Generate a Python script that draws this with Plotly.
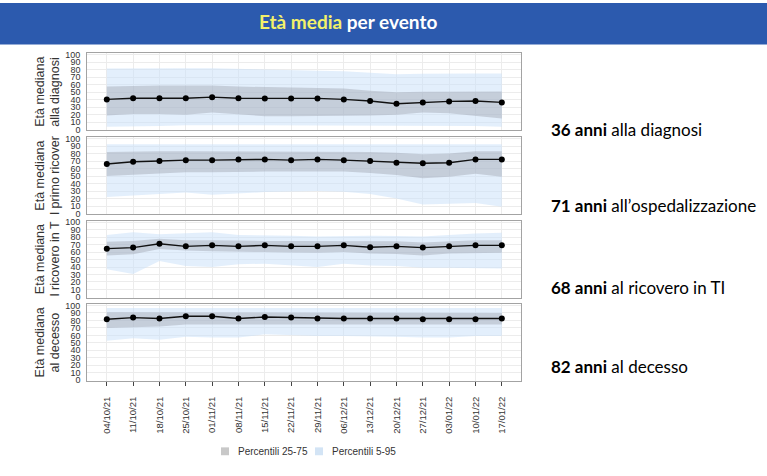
import plotly.graph_objects as go

dates = ["04/10/21", "11/10/21", "18/10/21", "25/10/21", "01/11/21", "08/11/21",
         "15/11/21", "22/11/21", "29/11/21", "06/12/21", "13/12/21", "20/12/21",
         "27/12/21", "03/01/22", "10/01/22", "17/01/22"]

# Panel 1: alla diagnosi
diag_med = [40.4, 42, 42, 42, 43.4, 42, 41.7, 41.7, 41.7, 40.4, 38.2, 34.6, 36.4, 37.7, 38.2, 36.4]
diag_p25 = [19, 21, 21, 20, 23, 20, 18, 18, 18, 18, 19, 20, 23, 22, 19, 15]
diag_p75 = [57.5, 58.5, 58.8, 58.8, 58.8, 57.5, 57, 56.5, 56, 55, 52, 50, 50.5, 51, 51.5, 51]
diag_p5 = [4, 5, 5, 6, 6, 6, 6, 6, 6, 6, 6, 6, 6, 5, 5, 4]
diag_p95 = [81.6, 82, 82, 82, 82, 81, 80, 79, 78.5, 78, 76, 74, 74.5, 75, 75, 75]

# Panel 2: al primo ricovero
osp_med = [66, 69, 70, 71.2, 71.2, 72.2, 72.2, 71.2, 72.2, 71.2, 70, 67.8, 67, 67.8, 72.2, 72.2]
osp_p25 = [50, 52, 53, 55, 55, 56, 56, 56, 56, 56, 54, 51.5, 47, 49, 53, 49]
osp_p75 = [82, 83, 83, 83, 83, 83, 83, 83, 83, 83, 82, 81, 79, 80, 83, 83]
osp_p5 = [22, 24, 26.4, 28, 25, 27, 28.6, 29.5, 30, 29, 26, 20, 12, 13, 14, 9]
osp_p95 = [92.5, 92.5, 92.5, 92.5, 92.5, 92.5, 92.5, 92.5, 92.5, 92.5, 92.5, 92.5, 92.5, 92.5, 92.5, 92.5]

# Panel 3: al ricovero in TI
ti_med = [64.6, 66, 71.2, 67.7, 69, 67.7, 69, 67.7, 67.7, 69, 66.4, 67.7, 66, 67.7, 69, 69]
ti_p25 = [55.5, 57, 64, 62, 61, 60, 60, 59.5, 59, 60, 58, 57.5, 55.5, 58, 59, 59]
ti_p75 = [74, 75, 78, 76, 76, 75, 75, 75, 75, 75, 74, 74.5, 73, 74.5, 76, 76]
ti_p5 = [37, 30.5, 48, 41.5, 40, 43.7, 44.5, 42, 40, 44.5, 42, 41.5, 39, 39, 39, 38]
ti_p95 = [83, 86.5, 84, 85, 86.5, 83, 83, 82, 81, 82, 82, 81.5, 81, 83, 85, 86]

# Panel 4: al decesso
dec_med = [81.6, 83.8, 82.5, 85.5, 85.5, 82.5, 84.6, 83.8, 82.5, 82.5, 82.5, 82.5, 81.6, 81.6, 81.6, 82.5]
dec_p25 = [70, 71, 72, 74.5, 74.5, 73.7, 74, 74, 74.5, 74.5, 74, 74, 73.7, 74, 74.5, 74.5]
dec_p75 = [91, 91, 90.5, 91, 91, 90.5, 90, 90, 90, 90, 90, 90, 90, 90, 90, 90]
dec_p5 = [52.6, 56, 54, 58, 57, 57, 61.4, 60, 59, 59, 59, 58, 57, 57, 59, 59]
dec_p95 = [96.5, 96.5, 96.5, 96.5, 96.5, 96.5, 96.5, 96.5, 96.5, 96.5, 96.5, 96.5, 96.5, 96.5, 96.5, 96.5]

panel_titles = [("Età mediana", "alla diagnosi"),
                ("Età mediana", "l primo ricover"),
                ("Età mediana", "l ricovero in T"),
                ("Età mediana", "al decesso")]

summary_nums = ["36 anni", "71 anni", "68 anni", "82 anni"]
summary_texts = ["alla diagnosi", "all’ospedalizzazione", "al ricovero in TI", "al decesso"]

legend_labels = ["Percentili 25-75", "Percentili 5-95"]
title_hl = "Età media"
title_rest = "per evento"

panels = [
    (diag_med, diag_p25, diag_p75, diag_p5, diag_p95),
    (osp_med, osp_p25, osp_p75, osp_p5, osp_p95),
    (ti_med, ti_p25, ti_p75, ti_p5, ti_p95),
    (dec_med, dec_p25, dec_p75, dec_p5, dec_p95),
]

W, H = 767, 476
def py(y):
    return 1 - y / H
def px(x):
    return x / W

LIGHT = "rgba(200,224,249,0.5)"
IQR = "rgba(155,160,172,0.42)"
LEG_GRAY = "#c8c8c8"
LEG_BLUE = "#d3e4f5"

domains = [(129.3, 51), (214.5, 136), (299, 221), (383.5, 305.5)]
x0, x1 = 87.3, 521.3

fig = go.Figure()
for i, (med, p25, p75, p5, p95) in enumerate(panels):
    xa = "x" if i == 0 else f"x{i+1}"
    ya = "y" if i == 0 else f"y{i+1}"
    fig.add_trace(go.Scatter(x=dates, y=p95, mode="lines", line=dict(width=0, color=LIGHT),
                             showlegend=False, hoverinfo="skip", xaxis=xa, yaxis=ya))
    fig.add_trace(go.Scatter(x=dates, y=p5, mode="lines", line=dict(width=0, color=LIGHT),
                             fill="tonexty", fillcolor=LIGHT,
                             showlegend=False, hoverinfo="skip", xaxis=xa, yaxis=ya))
    fig.add_trace(go.Scatter(x=dates, y=p75, mode="lines", line=dict(width=0, color=IQR),
                             showlegend=False, hoverinfo="skip", xaxis=xa, yaxis=ya))
    fig.add_trace(go.Scatter(x=dates, y=p25, mode="lines", line=dict(width=0, color=IQR),
                             fill="tonexty", fillcolor=IQR,
                             showlegend=False, hoverinfo="skip", xaxis=xa, yaxis=ya))
    fig.add_trace(go.Scatter(x=dates, y=med, mode="lines+markers",
                             line=dict(width=1.4, color="#111111"),
                             marker=dict(size=6, color="#000000"),
                             showlegend=False, xaxis=xa, yaxis=ya))

layout = dict(
    width=W, height=H, margin=dict(l=0, r=0, t=0, b=0),
    paper_bgcolor="white", plot_bgcolor="white", showlegend=False,
    font=dict(family="Liberation Sans, Arial", color="#333333"),
)
for i, (yb, yt) in enumerate(domains):
    xk = "xaxis" if i == 0 else f"xaxis{i+1}"
    yk = "yaxis" if i == 0 else f"yaxis{i+1}"
    ya = "y" if i == 0 else f"y{i+1}"
    xa = "x" if i == 0 else f"x{i+1}"
    last = (i == 3)
    layout[xk] = dict(
        domain=[px(x0), px(x1)], anchor=ya, type="category",
        categoryorder="array", categoryarray=dates,
        range=[-0.74, 15.74], showgrid=True, gridcolor="#ececec", gridwidth=1,
        showline=True, mirror=True, linecolor="#a3a3a3", linewidth=1.2,
        zeroline=False,
        showticklabels=last, ticks="outside" if last else "",
        ticklen=4, tickcolor="#444444", tickwidth=1,
        tickangle=-90, tickfont=dict(size=9.5, color="#333333"),
        ticklabelstandoff=7 if last else 0,
    )
    if i > 0:
        layout[xk]["matches"] = "x"
    layout[yk] = dict(
        domain=[py(yb), py(yt)], anchor=xa, range=[-1, 102],
        tickmode="linear", tick0=0, dtick=10,
        showgrid=True, gridcolor="#ececec", gridwidth=1,
        showline=True, mirror=True, linecolor="#a3a3a3", linewidth=1.2,
        zeroline=False, ticks="", tickfont=dict(size=9, color="#333333"),
        ticklabelstandoff=4,
    )
fig.update_layout(**layout)

shapes = [dict(type="rect", xref="paper", yref="paper", x0=0, x1=1, y0=py(42), y1=1,
               fillcolor="#2c5aae", line=dict(width=0), layer="below")]
annotations = [dict(xref="paper", yref="paper", x=px(348), y=py(19), xanchor="center", yanchor="middle",
                    text=f"<b><span style='color:#f3f06a'>{title_hl}</span> {title_rest}</b>",
                    showarrow=False, font=dict(family="Lato", size=19, color="white"))]

for i, (yb, yt) in enumerate(domains):
    yc = (yb + yt) / 2
    l1, l2 = panel_titles[i]
    annotations.append(dict(xref="paper", yref="paper", x=px(40), y=py(yc), xanchor="center", yanchor="middle",
                            text=l1, textangle=-90, showarrow=False,
                            font=dict(family="Liberation Sans, Arial", size=12.5, color="#333333")))
    annotations.append(dict(xref="paper", yref="paper", x=px(55), y=py(yc), xanchor="center", yanchor="middle",
                            text=l2, textangle=-90, showarrow=False,
                            font=dict(family="Liberation Sans, Arial", size=12.5, color="#333333")))

right_y = [128, 206, 289, 369]
for n, t, y in zip(summary_nums, summary_texts, right_y):
    annotations.append(dict(xref="paper", yref="paper", x=px(549), y=py(y), xanchor="left", yanchor="middle",
                            text=f"<b>{n}</b> {t}", showarrow=False,
                            font=dict(family="Lato", size=17, color="#000000")))

# legend
for (sx, col, lab, tx) in [(221, LEG_GRAY, legend_labels[0], 236), (315, LEG_BLUE, legend_labels[1], 330)]:
    shapes.append(dict(type="rect", xref="paper", yref="paper", x0=px(sx), x1=px(sx + 8),
                       y0=py(459), y1=py(451), fillcolor=col, line=dict(width=0)))
    annotations.append(dict(xref="paper", yref="paper", x=px(tx), y=py(455), xanchor="left", yanchor="middle",
                            text=lab, showarrow=False,
                            font=dict(family="Liberation Sans, Arial", size=10, color="#333333")))

fig.update_layout(shapes=shapes, annotations=annotations)
fig.write_html("out.html")
